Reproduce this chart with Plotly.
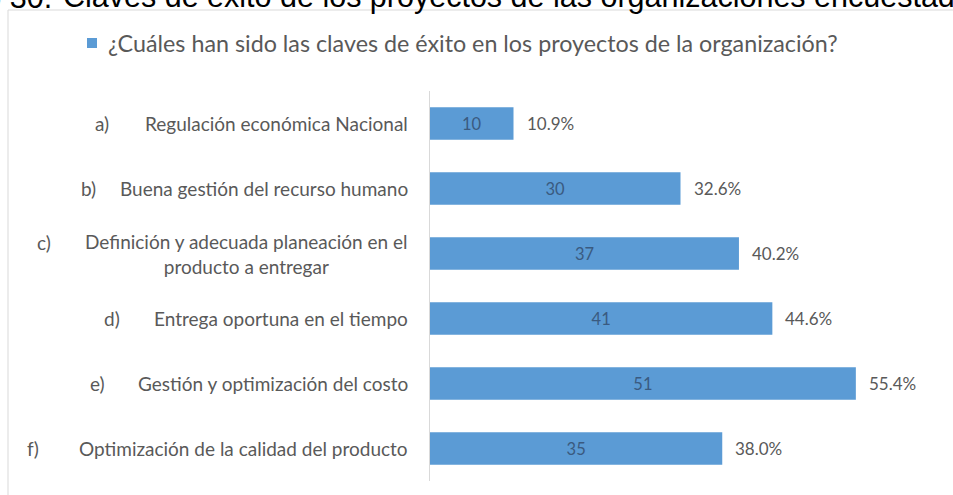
import plotly.graph_objects as go

# Survey answers: how many organisations cited each key to project success
letters = ["a)", "b)", "c)", "d)", "e)", "f)"]
categories = [
    "Regulación económica Nacional",
    "Buena gestión del recurso humano",
    "Definición y adecuada planeación en el<br>producto a entregar",
    "Entrega oportuna en el tiempo",
    "Gestión y optimización del costo",
    "Optimización de la calidad del producto",
]
counts = [10, 30, 37, 41, 51, 35]
total_respondents = 92
series_name = "¿Cuáles han sido las claves de éxito en los proyectos de la organización?"
title_prefix = "Gráfico 30."
title_text = "Claves de éxito de los proyectos de las organizaciones encuestadas"

percent_labels = [f"{c / total_respondents * 100:.1f}%" for c in counts]

W, H = 953, 495
M_L, M_R, M_T, M_B = 430, 22, 91, 14
PLOT_W = W - M_L - M_R
PLOT_H = H - M_T - M_B

FONT = "Lato"
GREY = "#595959"
BLUE = "#5B9BD5"


def px_x(p):
    return (p - M_L) / PLOT_W


def px_y(p):
    return (H - M_B - p) / PLOT_H


fig = go.Figure()
fig.add_trace(go.Bar(
    x=counts,
    y=categories,
    orientation="h",
    name=series_name,
    marker=dict(color=BLUE, line=dict(width=0)),
    text=[str(c) for c in counts],
    textposition="inside",
    insidetextanchor="middle",
    textangle=0,
    textfont=dict(family=FONT, size=16.5, color="#3a5a80"),
    hoverinfo="skip",
    showlegend=False,
))

annotations = []
# percentage share printed just past the end of each bar
for cat, c, pct in zip(categories, counts, percent_labels):
    annotations.append(dict(
        x=c, y=cat, xref="x", yref="y", text=pct, showarrow=False,
        xanchor="left", yanchor="middle", xshift=11,
        font=dict(family=FONT, size=17, color=GREY),
    ))

# category names, right-aligned against the axis
for cat in categories:
    annotations.append(dict(
        x=px_x(410), y=cat, xref="paper", yref="y", text=cat, showarrow=False,
        xanchor="right", yanchor="middle", align="center",
        font=dict(family=FONT, size=19, color=GREY),
    ))

# item letters, indented as in the questionnaire
letter_x = [93, 79, 35, 102, 88, 25]
for i, (lt, cat) in enumerate(zip(letters, categories)):
    annotations.append(dict(
        x=px_x(letter_x[i]), y=cat, xref="paper", yref="y", text=lt,
        showarrow=False, xanchor="left", yanchor="middle",
        yshift=11 if "<br>" in cat else 0,
        font=dict(family=FONT, size=19, color=GREY),
    ))

# series key: swatch plus question text
annotations.append(dict(
    x=px_x(106), y=px_y(43), xref="paper", yref="paper", text=series_name,
    showarrow=False, xanchor="left", yanchor="middle",
    font=dict(family=FONT, size=23.3, color=GREY),
))

# figure caption running across the top edge
annotations.append(dict(
    x=px_x(54), y=px_y(16), xref="paper", yref="paper", text=title_prefix,
    showarrow=False, xanchor="right", yanchor="bottom",
    font=dict(family="Liberation Sans", size=30.5, color="#000000"),
))
annotations.append(dict(
    x=px_x(61), y=px_y(16), xref="paper", yref="paper", text=title_text,
    showarrow=False, xanchor="left", yanchor="bottom",
    font=dict(family="Liberation Sans", size=30.5, color="#000000"),
))

shapes = [
    dict(
        type="rect", xref="paper", yref="paper",
        x0=px_x(8), x1=px_x(1000), y0=px_y(540), y1=px_y(10),
        line=dict(color="#d9d9d9", width=1), fillcolor="rgba(0,0,0,0)", layer="below",
    ),
    dict(
        type="rect", xref="paper", yref="paper",
        x0=px_x(87), x1=px_x(97), y0=px_y(48), y1=px_y(38),
        line=dict(width=0), fillcolor=BLUE,
    ),
]

fig.update_layout(
    width=W, height=H,
    margin=dict(l=M_L, r=M_R, t=M_T, b=M_B),
    paper_bgcolor="white", plot_bgcolor="white",
    bargap=0.5,
    showlegend=False,
    xaxis=dict(range=[0, 60], visible=False, fixedrange=True),
    yaxis=dict(
        autorange="reversed", showticklabels=False, ticks="",
        showline=True, linecolor="#d9d9d9", linewidth=1,
        showgrid=False, zeroline=False, fixedrange=True,
    ),
    annotations=annotations,
    shapes=shapes,
)

fig.write_html("out.html")
